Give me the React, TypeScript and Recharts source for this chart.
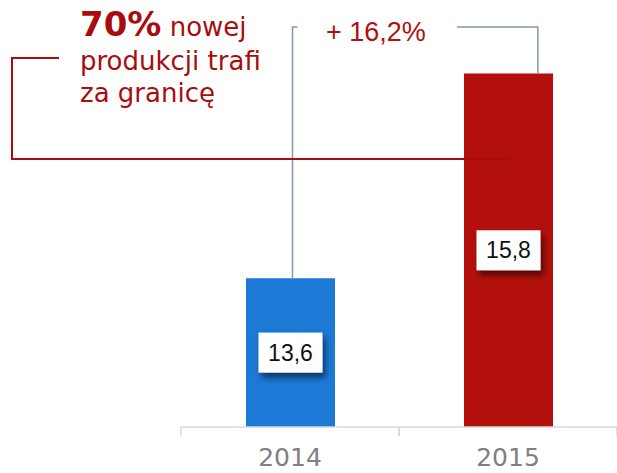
import { BarChart, Bar, XAxis, YAxis, LabelList, Cell } from "recharts"

const years = ["2014", "2015"]
const production = [13.6, 15.8]
const barColors = ["#1c79d6", "#b3100c"]
const growthLabel = "+ 16,2%"
const exportShare = "70%"

const data = years.map((year, i) => ({ year, value: production[i] }))

const RED = "#a80d0d"
const LINK = "#8497b0"
const LINK_Y = 27
const CHART_W = 617
const LEFT = 181
const HALF_BAND = (CHART_W - LEFT) / years.length / 2

function YearTick(props: any) {
  const { x, y, payload } = props
  return (
    <g>
      <line x1={x - HALF_BAND} y1={y} x2={x - HALF_BAND} y2={y + 9} stroke="#d9d9d9" strokeWidth={1.5} />
      <line x1={x + HALF_BAND} y1={y} x2={x + HALF_BAND} y2={y + 9} stroke="#d9d9d9" strokeWidth={1.5} />
      <text
        x={x}
        y={y + 39}
        textAnchor="middle"
        fill="#808080"
        fontSize={25}
        fontFamily="DejaVu Sans, Verdana, sans-serif"
      >
        {payload.value}
      </text>
    </g>
  )
}

function ValueBox(props: any) {
  const { x, y, width, height, value, index } = props
  const cx = x + width / 2
  const cy = y + height / 2
  const w = 64
  const h = 40
  return (
    <g>
      <defs>
        <filter id={`shadow-${index}`} x="-30%" y="-30%" width="160%" height="180%">
          <feDropShadow dx="3" dy="5" stdDeviation="3" floodColor="#000" floodOpacity="0.55" />
        </filter>
      </defs>
      {index === 0 && (
        <polyline
          points={`${cx + 2},${y} ${cx + 2},${LINK_Y} ${cx + 7},${LINK_Y}`}
          fill="none"
          stroke={LINK}
          strokeWidth={1.5}
        />
      )}
      {index === 1 && (
        <g>
          <polyline
            points={`${x + width * 0.83},${y} ${x + width * 0.83},${LINK_Y} 457,${LINK_Y}`}
            fill="none"
            stroke={LINK}
            strokeWidth={1.5}
          />
          <polyline
            points={`59,58 12,58 12,159 ${cx},159`}
            fill="none"
            stroke={RED}
            strokeWidth={2}
          />
        </g>
      )}
      <rect x={cx - w / 2} y={cy - h / 2} width={w} height={h} fill="#fff" filter={`url(#shadow-${index})`} />
      <text
        x={cx}
        y={cy + 8}
        textAnchor="middle"
        fontFamily="Liberation Sans, Arial, sans-serif"
        fontSize={23}
        fill="#111"
      >
        {String(value).replace(".", ",")}
      </text>
    </g>
  )
}

export default function App() {
  return (
    <div style={{ position: "absolute", left: 0, top: 0 }}>
      <BarChart
        width={CHART_W}
        height={473}
        data={data}
        margin={{ top: 55, right: 0, bottom: 0, left: LEFT }}
        barSize={89}
      >
        <XAxis
          dataKey="year"
          height={46}
          axisLine={{ stroke: "#d9d9d9", strokeWidth: 1.5 }}
          tickLine={false}
          tickSize={0}
          tickMargin={0}
          tick={<YearTick />}
        />
        <YAxis hide domain={[12, 16]} allowDataOverflow />
        <Bar dataKey="value" isAnimationActive={false}>
          {data.map((d, i) => (
            <Cell key={d.year} fill={barColors[i]} />
          ))}
          <LabelList dataKey="value" content={<ValueBox />} />
        </Bar>
        <text x={326} y={41} fontFamily="Liberation Sans, Arial, sans-serif" fontSize={27} fill="#b01010">
          {growthLabel}
        </text>
        <text fontFamily="DejaVu Sans, Verdana, sans-serif" fill={RED}>
          <tspan x={80} y={36} fontSize={34} fontWeight="bold">{exportShare}</tspan>
          <tspan fontSize={26}> nowej</tspan>
          <tspan x={80} y={70} fontSize={26}>produkcji trafi</tspan>
          <tspan x={80} y={102} fontSize={26}>za granicę</tspan>
        </text>
      </BarChart>
    </div>
  )
}
